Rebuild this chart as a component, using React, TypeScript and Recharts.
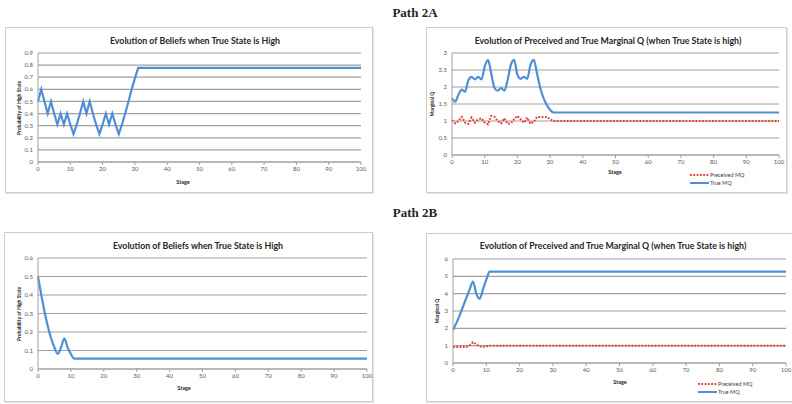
import { CartesianGrid, Line, LineChart, XAxis, YAxis } from "recharts";

// Path 2A: values read at each stage until the series settles, then the last stage
const stagesA = [0, 1, 2, 3, 4, 5, 6, 7, 8, 9, 10, 11, 12, 13, 14, 15, 16, 17, 18, 19, 20, 21, 22, 23, 24, 25, 26, 27, 28, 29, 30, 31, 100];
const beliefA = [0.5, 0.6, 0.5, 0.4, 0.5, 0.4, 0.31, 0.4, 0.31, 0.4, 0.31, 0.23, 0.31, 0.4, 0.5, 0.4, 0.5, 0.4, 0.31, 0.23, 0.31, 0.4, 0.31, 0.4, 0.31, 0.23, 0.31, 0.4, 0.5, 0.6, 0.69, 0.777, 0.777];
const trueMqA = [1.67, 1.57, 1.78, 1.92, 1.86, 2.2, 2.3, 2.22, 2.3, 2.22, 2.6, 2.8, 2.4, 1.97, 1.89, 1.97, 1.89, 2.2, 2.65, 2.8, 2.36, 2.24, 2.3, 2.24, 2.65, 2.8, 2.4, 1.97, 1.67, 1.47, 1.33, 1.25, 1.25];
const perceivedMqA = [1.03, 0.93, 1.0, 1.12, 0.95, 0.92, 1.1, 0.95, 1.05, 1.08, 0.95, 0.9, 1.15, 1.12, 1.0, 0.93, 1.08, 0.92, 0.93, 1.05, 1.15, 1.05, 0.95, 1.1, 0.92, 0.97, 1.12, 1.12, 1.12, 1.12, 1.05, 1.0, 1.0];

// Path 2B
const stagesB = [0, 1, 2, 3, 4, 5, 6, 7, 8, 9, 10, 11, 100];
const beliefB = [0.5, 0.4, 0.31, 0.23, 0.165, 0.116, 0.081, 0.116, 0.165, 0.116, 0.081, 0.056, 0.056];
const trueMqB = [1.9, 2.3, 2.75, 3.25, 3.75, 4.25, 4.7, 4.0, 3.7, 4.25, 4.8, 5.27, 5.27];
const perceivedMqB = [0.93, 0.93, 0.93, 0.93, 0.93, 1.02, 1.2, 1.08, 0.95, 0.93, 0.95, 1.0, 1.0];

const stageTicks = [0, 10, 20, 30, 40, 50, 60, 70, 80, 90, 100];
const beliefTicksA = [0, 0.1, 0.2, 0.3, 0.4, 0.5, 0.6, 0.7, 0.8, 0.9];
const beliefTicksB = [0, 0.1, 0.2, 0.3, 0.4, 0.5, 0.6];
const mqTicksA = [0, 0.5, 1, 1.5, 2, 2.5, 3];
const mqTicksB = [0, 1, 2, 3, 4, 5, 6];

const beliefTitle = "Evolution of Beliefs when True State is High";
const mqTitle = "Evolution of Preceived and True Marginal Q (when True State is high)";
const legendNames = ["Preceived MQ", "True MQ"];

const BLUE = "#4f8fd6";
const RED = "#ec3b33";
const GRID = "#a0a0a0";
const FONT = "Lato, 'Open Sans', sans-serif";

type Box = { x: number; y: number; w: number; h: number };
type Plot = { left: number; top: number; right: number; bottom: number };

function toRows(stages: number[], a: number[], b?: number[]) {
  return stages.map((s, i) => ({ stage: s, a: a[i], b: b ? b[i] : undefined }));
}

function Txt({ x, y, size, bold, rotate, children, family }: any) {
  return (
    <div
      style={{
        position: "absolute",
        left: x,
        top: y,
        transform: `translate(-50%, -50%)${rotate ? " rotate(-90deg)" : ""}`,
        whiteSpace: "nowrap",
        fontSize: size,
        fontWeight: bold ? 700 : 400,
        fontFamily: family || FONT,
        color: "#262626",
        lineHeight: 1,
      }}
    >
      {children}
    </div>
  );
}

type PanelProps = {
  box: Box;
  plot: Plot;
  rows: any[];
  yDomain: [number, number];
  yTicks: number[];
  yTitle: string;
  title: string;
  titleAt: [number, number];
  yTitleX: number;
  stageAt: [number, number];
  two?: boolean;
  smooth?: boolean;
  legendAt?: [number, number];
};

function Panel(p: PanelProps) {
  const { box, plot } = p;
  const tick = { fontSize: 6, fill: "#595959", fontFamily: FONT };
  return (
    <>
      <div
        style={{
          position: "absolute",
          left: box.x,
          top: box.y,
          width: box.w,
          height: box.h,
          border: "1px solid #cdcdcd",
          boxSizing: "border-box",
          boxShadow: "1px 1px 1px #e4e4e4",
        }}
      />
      <div style={{ position: "absolute", left: box.x, top: box.y }}>
        <LineChart
          width={box.w}
          height={box.h}
          data={p.rows}
          margin={{ top: plot.top - box.y, right: box.x + box.w - plot.right, left: 0, bottom: 0 }}
        >
          <CartesianGrid vertical={false} stroke={GRID} strokeWidth={1.2} />
          <XAxis
            dataKey="stage"
            type="number"
            domain={[0, 100]}
            ticks={stageTicks}
            height={box.y + box.h - plot.bottom}
            tick={tick}
            tickSize={3}
            tickMargin={2}
            stroke={GRID}
            interval={0}
          />
          <YAxis
            type="number"
            domain={p.yDomain}
            ticks={p.yTicks}
            width={plot.left - box.x}
            tick={tick}
            tickSize={0}
            tickMargin={5}
            stroke={GRID}
            interval={0}
          />
          {p.two ? (
            <Line
              dataKey="b"
              type="linear"
              stroke={RED}
              strokeWidth={2}
              strokeDasharray="1.8 1.5"
              dot={false}
              isAnimationActive={false}
            />
          ) : null}
          <Line
            dataKey="a"
            type={p.smooth ? "monotone" : "linear"}
            stroke={BLUE}
            strokeWidth={2.2}
            dot={false}
            isAnimationActive={false}
          />
        </LineChart>
      </div>
      <Txt x={p.titleAt[0]} y={p.titleAt[1]} size={8.8} bold>
        {p.title}
      </Txt>
      <Txt x={p.yTitleX} y={(plot.top + plot.bottom) / 2} size={5} bold rotate>
        {p.yTitle}
      </Txt>
      <Txt x={p.stageAt[0]} y={p.stageAt[1]} size={5.5} bold>
        Stage
      </Txt>
      {p.legendAt ? (
        <div style={{ position: "absolute", left: p.legendAt[0], top: p.legendAt[1], fontFamily: FONT, fontSize: 5.5, color: "#404040" }}>
          {legendNames.map((name, i) => (
            <div key={name} style={{ display: "flex", alignItems: "center", height: 8 }}>
              <svg width={19} height={4} style={{ marginRight: 1 }}>
                <line
                  x1={0}
                  y1={2}
                  x2={19}
                  y2={2}
                  stroke={i === 0 ? RED : BLUE}
                  strokeWidth={2}
                  strokeDasharray={i === 0 ? "1.8 1.5" : undefined}
                />
              </svg>
              <span>{name}</span>
            </div>
          ))}
        </div>
      ) : null}
    </>
  );
}

export default function App() {
  return (
    <div style={{ position: "absolute", left: 0, top: 0, width: 792, height: 404, overflow: "hidden", background: "#fff" }}>
      <Txt x={415} y={12} size={13} bold family="'Liberation Serif', 'DejaVu Serif', serif">
        Path 2A
      </Txt>
      <Txt x={415} y={212} size={13} bold family="'Liberation Serif', 'DejaVu Serif', serif">
        Path 2B
      </Txt>
      <Panel
        box={{ x: 5, y: 27, w: 368, h: 166 }}
        plot={{ left: 38, top: 53, right: 361, bottom: 162 }}
        rows={toRows(stagesA, beliefA)}
        yDomain={[0, 0.9]}
        yTicks={beliefTicksA}
        yTitle="Probability of High State"
        title={beliefTitle}
        titleAt={[195, 41]}
        yTitleX={19}
        stageAt={[183, 183]}
      />
      <Panel
        box={{ x: 426, y: 27, w: 361, h: 166 }}
        plot={{ left: 452, top: 53, right: 779, bottom: 155 }}
        rows={toRows(stagesA, trueMqA, perceivedMqA)}
        yDomain={[0, 3]}
        yTicks={mqTicksA}
        yTitle="Marginal Q"
        title={mqTitle}
        titleAt={[608, 41]}
        yTitleX={432}
        stageAt={[615, 173]}
        two
        smooth
        legendAt={[690, 171]}
      />
      <Panel
        box={{ x: 4, y: 232, w: 369, h: 170 }}
        plot={{ left: 38, top: 258, right: 367, bottom: 369 }}
        rows={toRows(stagesB, beliefB)}
        yDomain={[0, 0.6]}
        yTicks={beliefTicksB}
        yTitle="Probability of High State"
        title={beliefTitle}
        titleAt={[198, 246]}
        yTitleX={19}
        stageAt={[184, 389]}
        smooth
      />
      <Panel
        box={{ x: 426, y: 233, w: 380, h: 169 }}
        plot={{ left: 453, top: 259, right: 786, bottom: 363 }}
        rows={toRows(stagesB, trueMqB, perceivedMqB)}
        yDomain={[0, 6]}
        yTicks={mqTicksB}
        yTitle="Marginal Q"
        title={mqTitle}
        titleAt={[613, 246]}
        yTitleX={437}
        stageAt={[620, 383]}
        two
        smooth
        legendAt={[698, 380]}
      />
    </div>
  );
}
